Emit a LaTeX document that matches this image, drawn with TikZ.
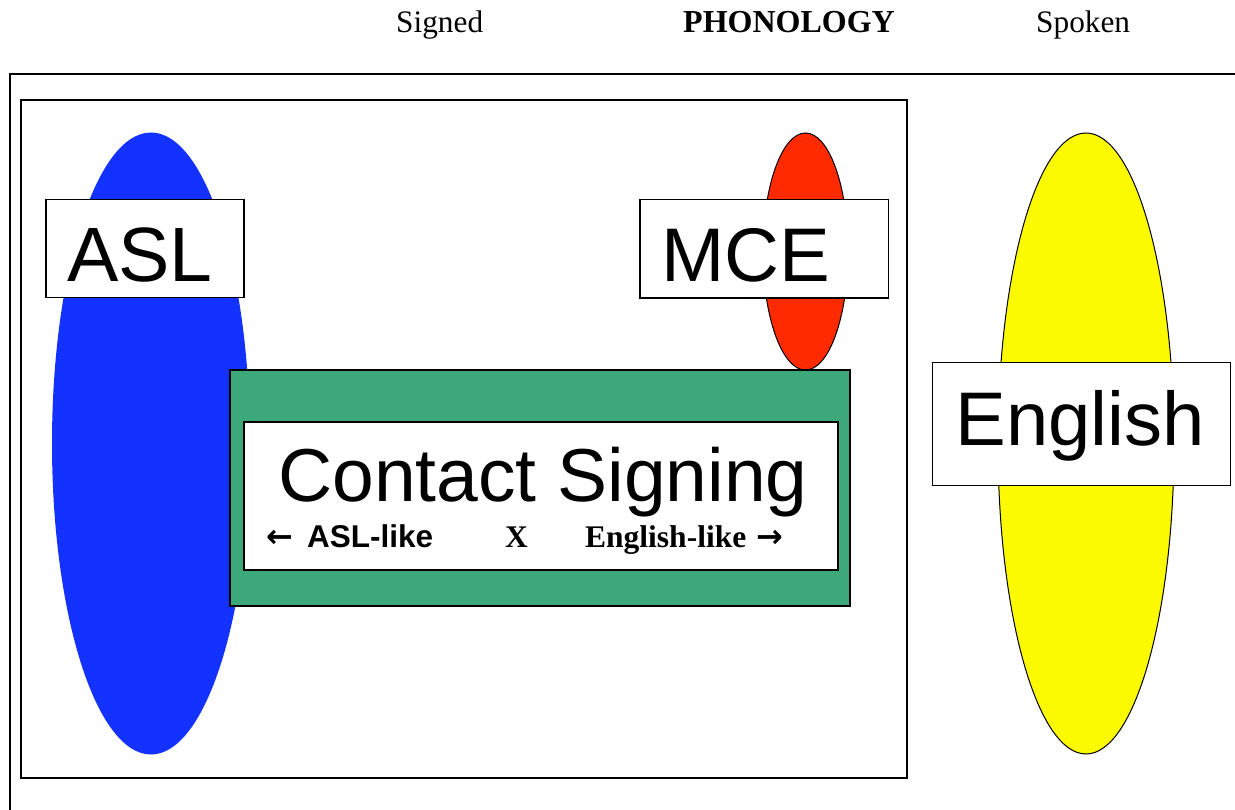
\documentclass[tikz,border=0pt]{standalone}
\usepackage{fontspec}
\setmainfont{Liberation Serif}
\newfontfamily\arialf{Liberation Sans}
\newfontfamily\dejavuf{DejaVu Sans}
\usetikzlibrary{shapes.geometric}
\definecolor{aslblue}{HTML}{1432FF}
\definecolor{mcered}{HTML}{FF2A00}
\definecolor{engyellow}{HTML}{FCFA00}
\definecolor{contactgreen}{HTML}{3DA87A}
\tikzset{
  frame/.style={draw=black, line width=2pt},
  lbox/.style={draw=black, fill=white, line width=1.4pt, rectangle, inner sep=0pt, outer sep=0pt},
  oval/.style={ellipse, inner sep=0pt, outer sep=0pt},
  bigtxt/.style={anchor=base west, inner sep=0pt, font=\arialf\fontsize{76}{80}\selectfont},
  headtxt/.style={anchor=base west, inner sep=0pt, font=\fontsize{31.3}{36}\selectfont},
  subtxt/.style={anchor=base west, inner sep=0pt, font=\fontsize{31.5}{36}\selectfont\bfseries},
  arrtxt/.style={anchor=base west, inner sep=0pt, font=\dejavuf\fontsize{32}{36}\selectfont\bfseries}
}
\begin{document}
\begin{tikzpicture}[x=1pt,y=-1pt]
\useasboundingbox (0,0) rectangle (1235,810);
\clip (0,0) rectangle (1235,810);
\fill[white] (0,0) rectangle (1235,810);
% outer frame and inner rectangle
\draw[frame] (10,74) rectangle (1260,840);
\draw[draw=black, line width=1.6pt] (21,100) rectangle (907,778);
% ovals
\node[oval, fill=aslblue, minimum width=198pt, minimum height=622pt] (aslov) at (151,443.5) {};
\node[oval, fill=mcered, draw=black, line width=1pt, minimum width=85pt, minimum height=237pt] (mceov) at (805.5,251.5) {};
\node[oval, fill=engyellow, draw=black, line width=1pt, minimum width=176pt, minimum height=621pt] (engov) at (1086,443.5) {};
% label boxes
\node[lbox, minimum width=198pt, minimum height=98pt] (aslbox) at (145,248.3) {};
\node[lbox, minimum width=248.5pt, minimum height=98.5pt] (mcebox) at (764.3,248.6) {};
\node[lbox, minimum width=298pt, minimum height=123.5pt] (engbox) at (1081.3,424) {};
% contact signing
\node[rectangle, fill=contactgreen, draw=black, line width=1.3pt, inner sep=0pt, minimum width=620pt, minimum height=236pt] (green) at (540,488) {};
\node[lbox, minimum width=594pt, minimum height=148pt] (cbox) at (541,496) {};
% texts
\node[bigtxt, font=\arialf\fontsize{77}{80}\selectfont] (asltxt) at (67,281.7) {ASL};
\node[bigtxt] (mcetxt) at (661,281.7) {MCE};
\node[bigtxt] (engtxt) at (955.5,445.7) {English};
\node[bigtxt, font=\arialf\fontsize{75}{80}\selectfont] (ctxt) at (278,501) {Contact Signing};
\node[arrtxt] (larr) at (266,547.5) {←};
\node[subtxt, font=\arialf\fontsize{31.5}{36}\selectfont\bfseries] (asllike) at (307,547) {ASL-like};
\node[subtxt] (xtxt) at (505,547) {X};
\node[subtxt] (englike) at (585,547) {English-like};
\node[arrtxt] (rarr) at (756,547.5) {→};
% header
\node[headtxt] (signed) at (396,32.5) {Signed};
\node[headtxt, font=\fontsize{32}{36}\selectfont\bfseries] (phon) at (683,32.5) {PHONOLOGY};
\node[headtxt] (spoken) at (1036,32.5) {Spoken};
\end{tikzpicture}
\end{document}
